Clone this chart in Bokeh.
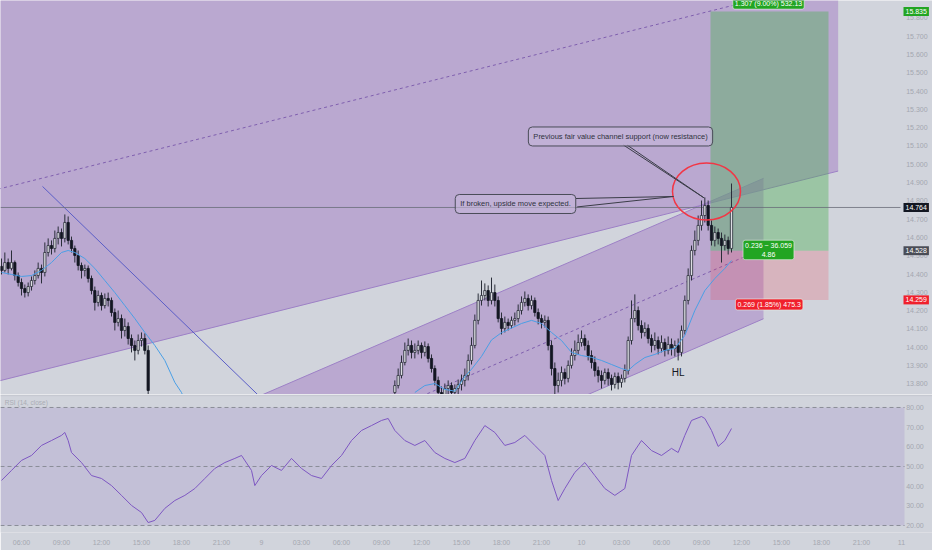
from bokeh.plotting import figure
from bokeh.layouts import column
from bokeh.models import Range1d, Label, FixedTicker, ColumnDataSource
from bokeh.embed import file_html
from bokeh.resources import INLINE
from bokeh.core.properties import value

# ---------------- data (15-minute bars, index 0 = day 8 04:30) ----------------
left_start = 0
left_open0 = 14.442
left_close = [14.420, 14.463, 14.431, 14.463, 14.392, 14.354, 14.321, 14.299, 14.332, 14.365,
              14.392, 14.431, 14.409, 14.518, 14.556, 14.540, 14.595, 14.627, 14.595, 14.682,
              14.584, 14.540, 14.502, 14.447, 14.420, 14.431, 14.376, 14.310, 14.245, 14.283,
              14.228, 14.267, 14.256, 14.190, 14.136, 14.157, 14.092, 14.114, 14.048, 14.010,
              13.983, 14.037, 14.048, 13.983, 13.764]
left_high = [14.485, 14.518, 14.485, 14.529, 14.474, 14.409, 14.376, 14.343, 14.354, 14.387,
             14.420, 14.463, 14.452, 14.573, 14.595, 14.584, 14.638, 14.660, 14.649, 14.726,
             14.715, 14.605, 14.556, 14.529, 14.463, 14.452, 14.447, 14.392, 14.332, 14.310,
             14.299, 14.294, 14.299, 14.272, 14.212, 14.201, 14.179, 14.157, 14.136, 14.070,
             14.037, 14.070, 14.081, 14.076, 14.010]
left_low = [14.398, 14.409, 14.398, 14.420, 14.365, 14.332, 14.283, 14.272, 14.278, 14.310,
            14.343, 14.376, 14.349, 14.387, 14.496, 14.507, 14.518, 14.562, 14.551, 14.573,
            14.562, 14.518, 14.463, 14.420, 14.376, 14.387, 14.354, 14.289, 14.201, 14.223,
            14.201, 14.212, 14.223, 14.168, 14.092, 14.114, 14.048, 14.059, 14.015, 13.972,
            13.928, 13.961, 14.004, 13.961, 13.710]

right_start = 118
right_open0 = 13.753
right_close = [13.791, 13.846, 13.917, 13.983, 14.010, 13.972, 13.983, 14.010, 13.972, 14.004,
               13.939, 13.884, 13.819, 13.753, 13.737, 13.775, 13.791, 13.753, 13.775, 13.797,
               13.819, 13.846, 13.928, 14.010, 14.147, 14.256, 14.283, 14.310, 14.256, 14.299,
               14.256, 14.157, 14.103, 14.136, 14.119, 14.147, 14.157, 14.201, 14.245, 14.267,
               14.228, 14.256, 14.190, 14.157, 14.136, 14.147, 14.010, 13.884, 13.791, 13.819,
               13.862, 13.830, 13.901, 13.955, 13.983, 14.026, 14.048, 14.010, 13.955, 13.917,
               13.873, 13.846, 13.819, 13.862, 13.830, 13.797, 13.840, 13.808, 13.830, 13.873,
               14.037, 14.157, 14.201, 14.119, 14.081, 14.103, 14.048, 14.010, 14.037, 13.994,
               14.026, 13.983, 14.015, 13.994, 14.010, 13.972, 14.092, 14.256, 14.392, 14.529,
               14.584, 14.666, 14.720, 14.775, 14.666, 14.584, 14.627, 14.595, 14.556, 14.584,
               14.540, 14.764]
right_high = [13.819, 13.884, 13.955, 14.026, 14.048, 14.037, 14.021, 14.037, 14.026, 14.032,
              14.021, 13.961, 13.901, 13.840, 13.786, 13.802, 13.819, 13.808, 13.797, 13.824,
              13.851, 13.884, 13.961, 14.054, 14.179, 14.294, 14.365, 14.349, 14.338, 14.381,
              14.343, 14.278, 14.190, 14.168, 14.157, 14.168, 14.190, 14.234, 14.278, 14.305,
              14.289, 14.283, 14.272, 14.212, 14.179, 14.174, 14.168, 14.037, 13.917, 13.862,
              13.895, 13.884, 13.928, 13.994, 14.037, 14.070, 14.092, 14.070, 14.037, 13.983,
              13.950, 13.895, 13.873, 13.884, 13.884, 13.851, 13.862, 13.862, 13.851, 13.906,
              14.059, 14.256, 14.289, 14.223, 14.147, 14.136, 14.125, 14.070, 14.081, 14.059,
              14.065, 14.048, 14.059, 14.048, 14.037, 14.048, 14.119, 14.283, 14.431, 14.556,
              14.638, 14.720, 14.802, 14.819, 14.802, 14.693, 14.660, 14.649, 14.627, 14.616,
              14.605, 14.895]
right_low = [13.737, 13.775, 13.830, 13.901, 13.955, 13.939, 13.939, 13.961, 13.939, 13.950,
             13.917, 13.862, 13.791, 13.720, 13.699, 13.710, 13.742, 13.720, 13.726, 13.742,
             13.764, 13.786, 13.819, 13.906, 13.994, 14.125, 14.228, 14.256, 14.223, 14.234,
             14.223, 14.136, 14.070, 14.081, 14.092, 14.103, 14.119, 14.136, 14.179, 14.223,
             14.201, 14.207, 14.168, 14.125, 14.103, 14.108, 13.983, 13.846, 13.737, 13.753,
             13.786, 13.797, 13.808, 13.884, 13.928, 13.961, 14.004, 13.983, 13.928, 13.884,
             13.840, 13.808, 13.775, 13.797, 13.791, 13.764, 13.775, 13.770, 13.780, 13.808,
             13.851, 14.015, 14.136, 14.092, 14.048, 14.059, 14.021, 13.972, 13.983, 13.961,
             13.972, 13.950, 13.961, 13.955, 13.950, 13.928, 13.950, 14.070, 14.234, 14.365,
             14.502, 14.556, 14.638, 14.682, 14.638, 14.556, 14.551, 14.562, 14.463, 14.529,
             14.507, 14.518]

ma_left_bar = [0, 3, 6, 9, 12, 15, 18, 20, 22, 25, 28, 31, 34, 37, 40, 43, 46, 49, 52, 54, 55]
ma_left_val = [14.409, 14.398, 14.387, 14.392, 14.420, 14.463, 14.518, 14.529, 14.518, 14.485,
               14.431, 14.365, 14.299, 14.228, 14.157, 14.081, 14.010, 13.928, 13.808, 13.753, 13.710]
ma_right_bar = [124, 127, 130, 133, 136, 139, 141, 144, 147, 150, 153, 156, 159, 162, 165, 168, 171,
                174, 177, 180, 183, 186, 188, 190, 193, 196, 199, 202, 205, 208, 211, 214, 217, 219]
ma_right_val = [13.753, 13.791, 13.802, 13.770, 13.760, 13.840, 13.880, 13.950, 14.040, 14.080,
                14.105, 14.130, 14.147, 14.130, 14.081, 14.037, 13.972, 13.955, 13.945, 13.928,
                13.906, 13.884, 13.873, 13.906, 13.944, 13.961, 13.983, 13.994, 14.065, 14.201,
                14.310, 14.376, 14.431, 14.474]

rsi_bar = [0, 3, 6, 9, 12, 15, 18, 19, 20, 21, 24, 27, 30, 33, 36, 39, 42, 44, 46, 49, 52, 55, 58,
           61, 64, 67, 70, 72, 75, 76, 78, 81, 84, 87, 90, 93, 96, 99, 102, 105, 108, 111, 114, 116,
           118, 121, 124, 127, 130, 133, 136, 139, 142, 145, 148, 151, 154, 157, 160, 163, 165, 167,
           169, 172, 175, 178, 181, 184, 187, 189, 192, 195, 198, 201, 203, 205, 207, 210, 211, 213,
           215, 217, 219]
rsi_val = [42.9, 48.0, 53.1, 55.6, 60.7, 63.2, 65.8, 67.3, 63.2, 57.1, 52.0, 45.4, 43.9, 40.3, 35.3,
           30.2, 26.6, 21.5, 22.6, 28.7, 32.7, 35.3, 38.8, 43.9, 49.0, 52.0, 54.1, 55.6, 48.0, 40.3,
           45.4, 50.5, 48.0, 54.1, 49.0, 45.4, 43.9, 50.5, 55.6, 63.2, 68.3, 70.8, 73.4, 74.4, 68.3,
           63.2, 60.7, 63.2, 57.1, 54.1, 52.0, 54.1, 63.2, 70.8, 67.3, 60.7, 62.2, 65.8, 60.7, 55.6,
           42.9, 32.7, 38.8, 47.0, 52.0, 45.4, 38.8, 35.3, 38.8, 55.6, 63.2, 58.1, 55.6, 59.2, 57.1,
           65.8, 73.4, 75.4, 74.4, 68.3, 60.2, 63.2, 69.3]

price_ticks = [13.8, 13.9, 14.0, 14.1, 14.2, 14.3, 14.4, 14.5, 14.6, 14.7, 14.8, 14.9, 15.0,
               15.1, 15.2, 15.3, 15.4, 15.5, 15.6, 15.7, 15.8]
rsi_ticks = [20, 30, 40, 50, 60, 70, 80]
rsi_bands = [80, 50, 20]
time_ticks = [6, 18, 30, 42, 54, 66, 78, 90, 102, 114, 126, 138, 150, 162, 174, 186, 198, 210,
              222, 234, 246, 258, 270]
time_labels = ["06:00", "09:00", "12:00", "15:00", "18:00", "21:00", "9", "03:00", "06:00",
               "09:00", "12:00", "15:00", "18:00", "21:00", "10", "03:00", "06:00", "09:00",
               "12:00", "15:00", "18:00", "21:00", "11"]

# drawings (anchor points in bar index / price)
ch1_bar = [-1, 251]
ch1_lower = [13.815, 14.963]
ch1_width = 2.098
ch2_bar = [60, 228.6]
ch2_upper = [13.597, 14.923]
ch2_width = 0.767
trend_bar = [12.3, 80]
trend_price = [14.879, 13.686]
pos_bar = [212.7, 248.1]
entry, target, stop = 14.528, 15.835, 14.259
last_price = 14.764

# ---------------- styling ----------------
BG = "#d1d4dc"
CH_FILL = "#8f56ba"
FONT = "Liberation Sans"
AX_TXT = "#a4a7b0"
PANE_END = 269.7      # right edge of the chart panes (bar units)
AXIS_X = 271.4        # where the price-scale labels start

XR = Range1d(-0.3, 279.3)

p = figure(width=932, height=394, x_range=XR, y_range=Range1d(13.742, 15.895),
           output_backend="svg", toolbar_location=None, y_axis_location=None,
           x_axis_location=None, min_border_left=0, min_border_right=0,
           min_border_top=0, min_border_bottom=0)
p.background_fill_color = BG
p.border_fill_color = BG
p.outline_line_color = None
p.grid.visible = False

# channels
b0, b1 = ch1_bar
l0, l1 = ch1_lower
p.patch([b0, b1, b1, b0], [l0, l1, l1 + ch1_width, l0 + ch1_width],
        fill_color=CH_FILL, fill_alpha=0.35, line_color=None)
c0, c1 = ch2_bar
u0, u1 = ch2_upper
p.patch([c0, c1, c1, c0], [u0, u1, u1 - ch2_width, u0 - ch2_width],
        fill_color=CH_FILL, fill_alpha=0.35, line_color=None)
p.line([b0, b1], [l0, l1], line_color="#9d80c6", line_width=1)
p.line([b0, b1], [l0 + ch1_width / 2, l1 + ch1_width / 2], line_color="#7f5fae",
       line_width=1, line_dash="3 3")
p.line([c0, c1], [u0, u1], line_color="#9d80c6", line_width=1)
p.line([c0, c1], [u0 - ch2_width, u1 - ch2_width], line_color="#9d80c6", line_width=1)
p.line([c0, c1], [u0 - ch2_width / 2, u1 - ch2_width / 2], line_color="#7f5fae",
       line_width=1, line_dash="3 3")

# position boxes
p.quad(left=pos_bar[0], right=pos_bar[1], bottom=entry, top=target,
       fill_color="#4caf50", fill_alpha=0.4, line_color=None)
p.quad(left=pos_bar[0], right=pos_bar[1], bottom=stop, top=entry,
       fill_color="#f23645", fill_alpha=0.2, line_color=None)

# trend line and last price line
p.line(trend_bar, trend_price, line_color="#5b5ec7", line_width=1)
p.line([-0.3, PANE_END], [last_price, last_price], line_color="#6a6d78", line_width=0.8)

# candles
bars = list(range(left_start, left_start + len(left_close))) + \
       list(range(right_start, right_start + len(right_close)))
opens = [left_open0] + left_close[:-1] + [right_open0] + right_close[:-1]
closes = left_close + right_close
highs = [max(h, o, c) for h, o, c in zip(left_high + right_high, opens, closes)]
lows = [min(l, o, c) for l, o, c in zip(left_low + right_low, opens, closes)]
up = [c >= o for o, c in zip(opens, closes)]
src_up = ColumnDataSource(dict(x=[b for b, u in zip(bars, up) if u],
                               t=[c for c, u in zip(closes, up) if u],
                               b=[o for o, u in zip(opens, up) if u]))
src_dn = ColumnDataSource(dict(x=[b for b, u in zip(bars, up) if not u],
                               t=[o for o, u in zip(opens, up) if not u],
                               b=[c for c, u in zip(closes, up) if not u]))
p.segment(x0=bars, y0=lows, x1=bars, y1=highs, line_color="#2a2e39", line_width=1)
p.vbar(x="x", top="t", bottom="b", width=0.68, source=src_up,
       fill_color="#dcdde3", line_color="#2a2e39", line_width=0.8)
p.vbar(x="x", top="t", bottom="b", width=0.68, source=src_dn,
       fill_color="#131722", line_color="#131722", line_width=0.8)

# moving average
p.line(ma_left_bar, ma_left_val, line_color="#4a9fe6", line_width=1)
p.line(ma_right_bar, ma_right_val, line_color="#4a9fe6", line_width=1)

# annotations
p.ellipse(x=[211.5], y=[14.851], width=20.4, height=0.311, fill_alpha=0,
          line_color="#f23645", line_width=1.5)
p.line([186.6, 210.8, 187.7], [15.105, 14.816, 15.105], line_color="#3b3d48", line_width=1)
p.line([172.2, 201.6, 172.7], [14.813, 14.824, 14.767], line_color="#3b3d48", line_width=1)
for txt, bx, py in [("Previous fair value channel support (now resistance)", 185.7, 15.152),
                    ("If broken, upside move expected.", 154.2, 14.783)]:
    p.add_layout(Label(x=bx, y=py, text=txt, text_align="center", text_baseline="middle",
                       text_font=FONT, text_font_size="7.5px", text_color="#2f3140",
                       background_fill_color="#c7b7da", background_fill_alpha=0.6,
                       border_line_color="#4a4c58", border_line_width=1,
                       padding=5, border_radius=4))
p.add_layout(Label(x=203.0, y=13.860, text="HL", text_align="center", text_baseline="middle",
                   text_font=FONT, text_font_size="10px", text_color="#131722"))

for txt, bx, py, col in [("1.307 (9.00%) 532.13", 230.1, 15.878, "#22a522"),
                         ("0.236 ~ 36.059\n4.86", 230.1, 14.532, "#22a522"),
                         ("0.269 (1.85%) 475.3", 230.3, 14.234, "#f0202c")]:
    p.add_layout(Label(x=bx, y=py, text=txt, text_align="center", text_baseline="middle",
                       text_font=FONT, text_font_size="7px", text_color="white",
                       background_fill_color=col, border_line_color="#e8f0e8",
                       border_line_alpha=0.6, padding=2, border_radius=2))

# price scale (drawn inside the canvas so that the coloured price tags can sit on it)
p.text(x=[AXIS_X] * len(price_ticks), y=price_ticks, text=[f"{t:.3f}" for t in price_ticks],
       text_font=value(FONT), text_font_size=value("7px"), text_color=AX_TXT,
       text_align="left", text_baseline="middle")
for txt, py, col in [("15.835", target, "#22a522"), ("14.764", last_price, "#131722"),
                     ("14.528", entry, "#4a4d57"), ("14.259", stop, "#f0202c")]:
    p.add_layout(Label(x=270.6, y=py, text=txt, text_align="left",
                       text_baseline="middle", text_font=FONT, text_font_size="7px",
                       text_color="white", background_fill_color=col, padding=2))

# ---------------- RSI pane ----------------
r = figure(width=932, height=156, x_range=XR, y_range=Range1d(16.44, 86.6),
           output_backend="svg", toolbar_location=None, y_axis_location=None,
           min_border_left=0, min_border_right=0, min_border_top=0, min_border_bottom=18)
r.background_fill_color = BG
r.border_fill_color = BG
r.outline_line_color = None
r.grid.visible = False
r.quad(left=-0.3, right=270.9, bottom=20, top=80, fill_color="#7e57c2", fill_alpha=0.16,
       line_color=None)
r.line([-0.3, 279.3], [86.0, 86.0], line_color="#c4c7cf", line_width=1)
for lv in rsi_bands:
    r.line([-0.3, 270.9], [lv, lv], line_color="#8a8d98", line_width=1, line_dash="4 3")
r.line(rsi_bar, rsi_val, line_color="#7e57c2", line_width=1)
r.add_layout(Label(x=1, y=82.5, text="RSI (14, close)", text_font=FONT,
                   text_font_size="6.5px", text_color="#a9acb5", text_baseline="middle"))
r.text(x=[AXIS_X] * len(rsi_ticks), y=rsi_ticks, text=[f"{t:.2f}" for t in rsi_ticks],
       text_font=value(FONT), text_font_size=value("7px"), text_color=AX_TXT,
       text_align="left", text_baseline="middle")
rx = r.xaxis[0]
rx.ticker = FixedTicker(ticks=time_ticks)
rx.major_label_overrides = {t: s for t, s in zip(time_ticks, time_labels)}
rx.axis_line_color = None
rx.major_tick_line_color = None
rx.minor_tick_line_color = None
rx.major_tick_out = 0
rx.major_label_text_font = FONT
rx.major_label_text_font_size = "7px"
rx.major_label_text_color = AX_TXT
rx.major_label_standoff = 6

layout = column(p, r, spacing=0)
open("out.html", "w").write(file_html(layout, INLINE))
